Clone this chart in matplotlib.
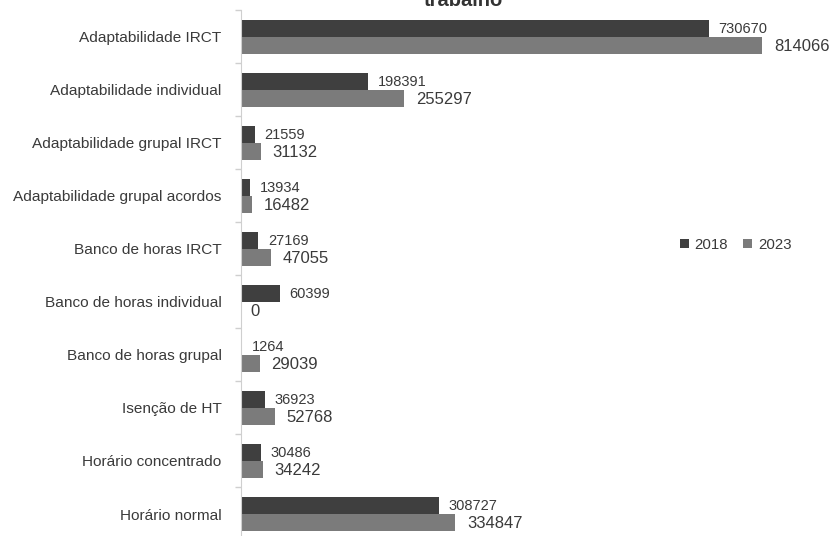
import matplotlib
matplotlib.use("Agg")
import matplotlib.pyplot as plt
import numpy as np

plt.rcParams['font.family'] = ['Liberation Sans', 'DejaVu Sans']

categorias = ["Adaptabilidade IRCT", "Adaptabilidade individual",
              "Adaptabilidade grupal IRCT", "Adaptabilidade grupal acordos",
              "Banco de horas IRCT", "Banco de horas individual",
              "Banco de horas grupal", "Isenção de HT",
              "Horário concentrado", "Horário normal"]
v2018 = [730670, 198391, 21559, 13934, 27169, 60399, 1264, 36923, 30486, 308727]
v2023 = [814066, 255297, 31132, 16482, 47055, 0, 29039, 52768, 34242, 334847]

c2018 = '#3f3f3f'
c2023 = '#7b7b7b'
txt = '#3a3a3a'

fig = plt.figure(figsize=(8.31, 5.36), dpi=100)
ax = fig.add_axes([241 / 831, -4.5 / 536, 590 / 831, 530 / 536])

y = np.arange(len(categorias))
h = 0.32
ax.barh(y - h / 2, v2018, height=h, color=c2018, label='2018')
ax.barh(y + h / 2, v2023, height=h, color=c2023, label='2023')

for yi, v in zip(y, v2018):
    ax.annotate(str(v), (v, yi - h / 2), xytext=(7, 0), textcoords='offset points',
                va='center', ha='left', fontsize=10.5, color=txt)
for yi, v in zip(y, v2023):
    ax.annotate(str(v), (v, yi + h / 2), xytext=(8.5 if v > 0 else 7, -1),
                textcoords='offset points',
                va='center', ha='left', fontsize=12, color=txt)

ax.set_xlim(0, 590 * 1562.5)
ax.set_ylim(len(categorias) - 0.5, -0.5)
ax.set_yticks(y)
ax.set_yticklabels(categorias, fontsize=11.1, color=txt)
ax.set_yticks(np.arange(len(categorias) + 1) - 0.5, minor=True)
ax.tick_params(axis='y', which='major', length=0, pad=14)
ax.tick_params(axis='y', which='minor', length=4.5, color='#cfcfcf', width=1)
ax.set_xticks([])
for s in ['top', 'right', 'bottom']:
    ax.spines[s].set_visible(False)
ax.spines['left'].set_color('#cfcfcf')

ax.legend(loc='center left', bbox_to_anchor=(666 / 831, 1 - 245 / 536),
          bbox_transform=fig.transFigure,
          frameon=False, ncol=2, fontsize=10.8, handlelength=0.6, handleheight=0.6,
          handletextpad=0.4, columnspacing=1.0, labelcolor=txt)

fig.text(463 / 831, 1 - 6 / 536, 'trabalho', ha='center', va='baseline',
         fontsize=14.5, fontweight='bold', color='#333333')

fig.savefig('out.png', dpi=100)
